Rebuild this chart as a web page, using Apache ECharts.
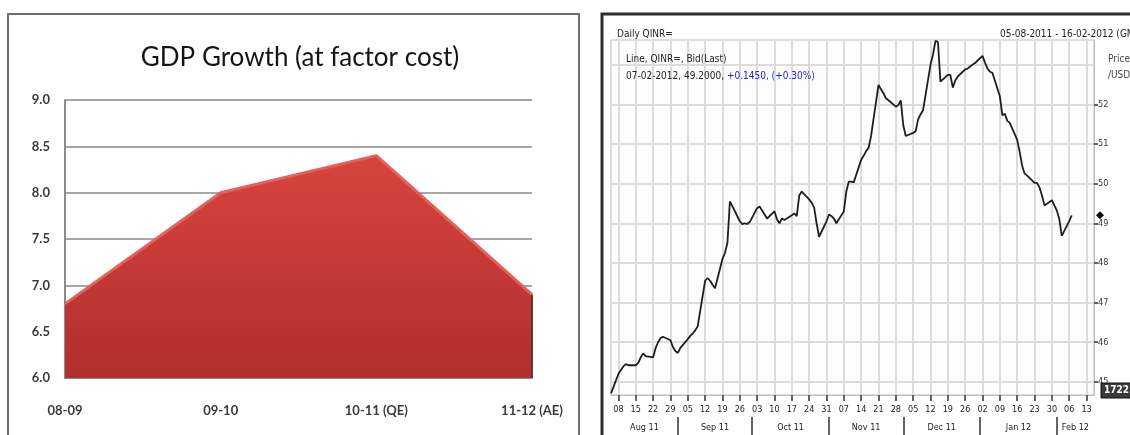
<!DOCTYPE html>
<html>
<head>
<meta charset="utf-8">
<script src="https://cdn.jsdelivr.net/npm/echarts@6/dist/echarts.min.js"></script>
<style>
  html, body { margin: 0; padding: 0; background: #fff; }
  #chart { width: 1130px; height: 435px; }
</style>
</head>
<body>
<div id="chart"></div>
<script>
// ---- Left panel: GDP growth at factor cost (%) ----
const gdpYears = ['08-09', '09-10', '10-11 (QE)', '11-12 (AE)'];
const gdpGrowth = [6.8, 8.0, 8.4, 6.9];

// ---- Right panel: Daily QINR= bid (last), INR per USD ----
const qinrDates = [
  '2011-08-05','2011-08-08','2011-08-09','2011-08-10','2011-08-11','2011-08-12',
  '2011-08-15','2011-08-16','2011-08-17','2011-08-18','2011-08-19',
  '2011-08-22','2011-08-23','2011-08-24','2011-08-25','2011-08-26',
  '2011-08-29','2011-08-30','2011-08-31','2011-09-01','2011-09-02',
  '2011-09-05','2011-09-06','2011-09-07','2011-09-08','2011-09-09',
  '2011-09-12','2011-09-13','2011-09-14','2011-09-15','2011-09-16',
  '2011-09-19','2011-09-20','2011-09-21','2011-09-22','2011-09-23',
  '2011-09-26','2011-09-27','2011-09-28','2011-09-29','2011-09-30',
  '2011-10-03','2011-10-04','2011-10-05','2011-10-06','2011-10-07',
  '2011-10-10','2011-10-11','2011-10-12','2011-10-13','2011-10-14',
  '2011-10-17','2011-10-18','2011-10-19','2011-10-20','2011-10-21',
  '2011-10-24','2011-10-25','2011-10-26','2011-10-27','2011-10-28',
  '2011-10-31','2011-11-01','2011-11-02','2011-11-03','2011-11-04',
  '2011-11-07','2011-11-08','2011-11-09','2011-11-10','2011-11-11',
  '2011-11-14','2011-11-15','2011-11-16','2011-11-17','2011-11-18',
  '2011-11-21','2011-11-22','2011-11-23','2011-11-24','2011-11-25',
  '2011-11-28','2011-11-29','2011-11-30','2011-12-01','2011-12-02',
  '2011-12-05','2011-12-06','2011-12-07','2011-12-08','2011-12-09',
  '2011-12-12','2011-12-13','2011-12-14','2011-12-15','2011-12-16',
  '2011-12-19','2011-12-20','2011-12-21','2011-12-22','2011-12-23',
  '2011-12-26','2011-12-27','2011-12-28','2011-12-29','2011-12-30',
  '2012-01-02','2012-01-03','2012-01-04','2012-01-05','2012-01-06',
  '2012-01-09','2012-01-10','2012-01-11','2012-01-12','2012-01-13',
  '2012-01-16','2012-01-17','2012-01-18','2012-01-19','2012-01-20',
  '2012-01-23','2012-01-24','2012-01-25','2012-01-26','2012-01-27',
  '2012-01-30','2012-01-31','2012-02-01','2012-02-02','2012-02-03',
  '2012-02-06','2012-02-07'
];
const qinrValues = [
  44.71, 45.20, 45.30, 45.39, 45.45, 45.42,
  45.42, 45.48, 45.62, 45.72, 45.65,
  45.62, 45.85, 46.00, 46.10, 46.14,
  46.05, 45.88, 45.78, 45.73, 45.86,
  46.08, 46.16, 46.22, 46.30, 46.40,
  47.55, 47.62, 47.55, 47.45, 47.36,
  48.10, 48.25, 48.50, 49.55, 49.43,
  49.05, 48.98, 49.00, 48.98, 49.03,
  49.38, 49.42, 49.32, 49.22, 49.12,
  49.30, 49.10, 49.00, 49.12, 49.08,
  49.20, 49.25, 49.18, 49.70, 49.80,
  49.60, 49.52, 49.40, 49.00, 48.66,
  49.05, 49.22, 49.18, 49.12, 49.00,
  49.30, 49.80, 50.05, 50.05, 50.03,
  50.60, 50.70, 50.82, 50.90, 51.20,
  52.49, 52.38, 52.28, 52.15, 52.10,
  51.94, 51.98, 52.10, 51.47, 51.20,
  51.28, 51.32, 51.62, 51.75, 51.85,
  53.00, 53.25, 53.60, 53.57, 52.57,
  52.74, 52.74, 52.42, 52.60, 52.70,
  52.88, 52.90, 52.95, 53.00, 53.04,
  53.22, 53.05, 52.90, 52.82, 52.79,
  52.20, 51.72, 51.76, 51.58, 51.53,
  51.10, 50.80, 50.45, 50.25, 50.20,
  50.02, 50.02, 49.90, 49.70, 49.45,
  49.58, 49.45, 49.32, 49.10, 48.68,
  49.055, 49.20
];

// Axis ticks and labels of the price chart
const qinrRange = ['2011-08-05', '2012-02-16'];
const weekTicks = [
  '2011-08-08','2011-08-15','2011-08-22','2011-08-29','2011-09-05','2011-09-12','2011-09-19',
  '2011-09-26','2011-10-03','2011-10-10','2011-10-17','2011-10-24','2011-10-31','2011-11-07',
  '2011-11-14','2011-11-21','2011-11-28','2011-12-05','2011-12-12','2011-12-19','2011-12-26',
  '2012-01-02','2012-01-09','2012-01-16','2012-01-23','2012-01-30','2012-02-06','2012-02-13'
];
const monthStarts = ['2011-08-01','2011-09-01','2011-10-01','2011-11-01','2011-12-01','2012-01-01','2012-02-01','2012-03-01'];
const monthLabels = ['Aug 11','Sep 11','Oct 11','Nov 11','Dec 11','Jan 12','Feb 12'];
const priceGridLines = [45, 46, 47, 48, 49, 50, 51, 52, 53];
const priceLabels = [45, 46, 47, 48, 49, 50, 51, 52];
const priceRange = [44.67, 53.62];

const SANS = 'Lato, "Open Sans", "Noto Sans", sans-serif';
const NARROW = '"Liberation Sans Narrow", "DejaVu Sans Condensed", "Liberation Sans", Arial, sans-serif';

function ts(s) {
  const p = s.split('-').map(Number);
  return Date.UTC(p[0], p[1] - 1, p[2]);
}
function pad2(n) { return (n < 10 ? '0' : '') + n; }
function fmtDate(s) { const p = s.split('-'); return p[2] + '-' + p[1] + '-' + p[0]; }

const xMin = ts(qinrRange[0]);
const xMax = ts(qinrRange[1]);
const weekTs = weekTicks.map(ts);
const monthTs = monthStarts.map(ts);
// centre of the visible part of each month, where its name sits
const monthMid = monthLabels.map((_, i) => {
  const a = Math.max(monthTs[i], xMin);
  const b = Math.min(monthTs[i + 1], xMax);
  return (a + b) / 2;
});
const monthSep = monthTs.filter(t => t > xMin && t < xMax);

const qinrData = qinrDates.map((d, i) => [ts(d), qinrValues[i]]);
const lastIdx = qinrValues.length - 1;
const lastVal = qinrValues[lastIdx];
const change = lastVal - qinrValues[lastIdx - 1];
const changePct = change / qinrValues[lastIdx - 1] * 100;
const sign = v => (v >= 0 ? '+' : '');

const chart = echarts.init(document.getElementById('chart'), null, { renderer: 'canvas' });

function frames(extra) {
  return [
    { type: 'rect', z: -10, shape: { x: 8, y: 14, width: 571, height: 440 },
      style: { fill: '#ffffff', stroke: '#6e6e6e', lineWidth: 2 } },
    { type: 'rect', z: -10, shape: { x: 602, y: 14, width: 560, height: 440 },
      style: { fill: '#ffffff', stroke: '#2e2e2e', lineWidth: 3 } }
  ].concat(extra || []);
}

const option = {
  backgroundColor: '#ffffff',
  animation: false,
  title: [
    {
      text: 'GDP Growth (at factor cost)',
      left: 295, top: 40, textAlign: 'center',
      textStyle: { fontFamily: SANS, fontSize: 26, fontWeight: 'normal', color: '#151515' }
    },
    {
      text: 'Daily QINR=',
      left: 612, top: 24,
      textStyle: { fontFamily: NARROW, fontSize: 10, fontWeight: 'normal', color: '#222' }
    },
    {
      text: fmtDate(qinrRange[0]) + ' - ' + fmtDate(qinrRange[1]) + ' (GMT)',
      left: 995, top: 24,
      textStyle: { fontFamily: NARROW, fontSize: 10, fontWeight: 'normal', color: '#222' }
    },
    {
      text: '{a|Line, QINR=, Bid(Last)}\n{a|' + fmtDate(qinrDates[lastIdx]) + ', ' + lastVal.toFixed(4) + ', }' +
            '{b|' + sign(change) + change.toFixed(4) + ', (' + sign(changePct) + changePct.toFixed(2) + '%)}',
      left: 621, top: 46,
      textStyle: {
        fontWeight: 'normal',
        rich: {
          a: { fontFamily: NARROW, fontSize: 10, fontWeight: 'normal', color: '#222', lineHeight: 17 },
          b: { fontFamily: NARROW, fontSize: 10, fontWeight: 'normal', color: '#1c1cd6', lineHeight: 17 }
        }
      }
    },
    {
      text: 'Price\n/USD',
      left: 1103, top: 46,
      textStyle: { fontFamily: NARROW, fontSize: 10, fontWeight: 'normal', color: '#444', lineHeight: 16 }
    }
  ],
  grid: [
    { left: 65, top: 100, width: 467, height: 278, containLabel: false },
    { left: 611, top: 40, width: 483, height: 355, containLabel: false,
      show: true, borderColor: '#bdbdbd', borderWidth: 1, backgroundColor: '#fdfdfd' }
  ],
  xAxis: [
    {
      type: 'category', gridIndex: 0, data: gdpYears, boundaryGap: false,
      axisLine: { show: true, lineStyle: { color: '#8c8c8c', width: 2 } },
      axisTick: { show: false },
      axisLabel: { interval: 0, margin: 26, fontFamily: SANS, fontSize: 13, fontWeight: 'bold', color: '#3a3a3a' },
      splitLine: { show: false }
    },
    {
      type: 'value', gridIndex: 1, min: xMin, max: xMax, scale: true,
      axisLine: { show: true, lineStyle: { color: '#bdbdbd', width: 1 } },
      axisTick: { show: true, customValues: weekTs, length: 6, lineStyle: { color: '#333', width: 1.5 } },
      axisLabel: {
        customValues: weekTs, margin: 10, fontFamily: NARROW, fontSize: 9, color: '#222',
        formatter: v => pad2(new Date(v).getUTCDate())
      },
      splitLine: { show: true, lineStyle: { color: '#dcdcdc', width: 2 } }
    },
    {
      type: 'value', gridIndex: 1, min: xMin, max: xMax, scale: true, position: 'bottom', offset: 22,
      axisLine: { show: false },
      axisTick: { show: true, customValues: monthSep, length: 18, lineStyle: { color: '#333', width: 1.5 } },
      axisLabel: {
        customValues: monthMid, margin: 6, fontFamily: NARROW, fontSize: 9, color: '#222',
        formatter: v => monthLabels[monthMid.indexOf(v)] || ''
      },
      splitLine: { show: false }
    }
  ],
  yAxis: [
    {
      type: 'value', gridIndex: 0, min: 6, max: 9, interval: 0.5,
      axisLine: { show: true, lineStyle: { color: '#8c8c8c', width: 2 } },
      axisTick: { show: false },
      axisLabel: { margin: 15, fontFamily: SANS, fontSize: 13, fontWeight: 'bold', color: '#3a3a3a',
                   formatter: v => v.toFixed(1) },
      splitLine: { show: true, lineStyle: { color: '#a6a6a6', width: 2 } }
    },
    {
      // price axis: grid lines only
      type: 'value', gridIndex: 1, position: 'right', min: priceRange[0], max: priceRange[1], scale: true,
      axisLine: { show: true, lineStyle: { color: '#bdbdbd', width: 1 } },
      axisTick: { show: false, customValues: priceGridLines },
      axisLabel: { show: false, customValues: priceGridLines },
      splitLine: { show: true, lineStyle: { color: '#dcdcdc', width: 2 } }
    },
    {
      // price axis: ticks and labels
      type: 'value', gridIndex: 1, position: 'right', min: priceRange[0], max: priceRange[1], scale: true,
      axisLine: { show: false },
      axisTick: { show: true, customValues: priceLabels, length: 4, lineStyle: { color: '#333', width: 1.5 } },
      axisLabel: {
        customValues: priceLabels, margin: 4, fontFamily: NARROW, fontSize: 9, color: '#333'
      },
      splitLine: { show: false }
    }
  ],
  series: [
    {
      name: 'GDP Growth', type: 'line', xAxisIndex: 0, yAxisIndex: 0,
      data: gdpGrowth, symbol: 'none', z: 3,
      lineStyle: { color: '#e5605a', width: 3 },
      areaStyle: {
        origin: 'start', opacity: 1,
        color: new echarts.graphic.LinearGradient(0, 0, 0, 1, [
          { offset: 0, color: '#d8443f' },
          { offset: 1, color: '#b02f2c' }
        ])
      },
      markLine: {
        silent: true, symbol: 'none', label: { show: false },
        lineStyle: { color: '#6a3432', width: 2, type: 'solid' },
        data: [[{ coord: [gdpYears[3], 6] }, { coord: [gdpYears[3], gdpGrowth[3]] }]]
      }
    },
    {
      name: 'QINR=', type: 'line', xAxisIndex: 1, yAxisIndex: 1,
      data: qinrData, symbol: 'none', z: 3,
      lineStyle: { color: '#1e1e1e', width: 1.8 }
    }
  ],
  graphic: frames()
};

chart.setOption(option);

// last-price marker on the price axis and the box at the axis foot
const yLast = chart.convertToPixel({ yAxisIndex: 1 }, lastVal);
const xRight = chart.convertToPixel({ xAxisIndex: 1 }, xMax);
const yBottom = chart.convertToPixel({ yAxisIndex: 1 }, priceRange[0]);
chart.setOption({
  graphic: frames([
    { type: 'polygon', z: 10,
      shape: { points: [[xRight + 6, yLast - 4], [xRight + 10, yLast], [xRight + 6, yLast + 4], [xRight + 2, yLast]] },
      style: { fill: '#111' } },
    { type: 'rect', z: 10, shape: { x: xRight + 7, y: yBottom - 12, width: 40, height: 15 },
      style: { fill: '#3a3a3a', stroke: '#111', lineWidth: 1 } },
    { type: 'text', z: 11, x: xRight + 10, y: yBottom - 10,
      style: { text: '1722', fill: '#fff', fontFamily: NARROW, fontSize: 10, fontWeight: 'bold' } }
  ])
});
</script>
</body>
</html>
